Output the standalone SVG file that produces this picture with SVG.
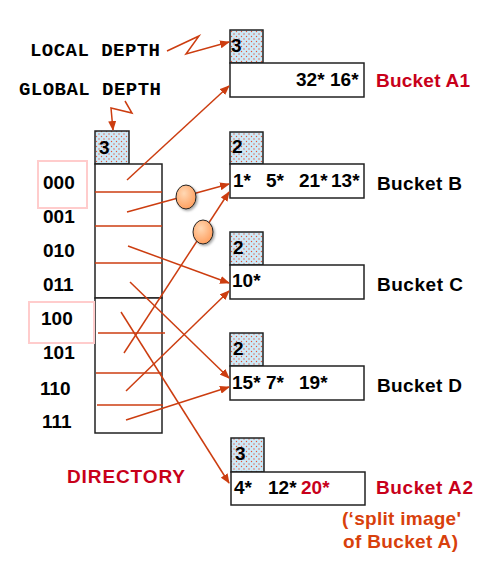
<svg xmlns="http://www.w3.org/2000/svg" width="499" height="583" viewBox="0 0 499 583">
<defs>
<pattern id="dots" width="5" height="5" patternUnits="userSpaceOnUse">
<rect width="5" height="5" fill="#cde9f7"/>
<circle cx="1.5" cy="1.5" r="0.7" fill="#e0553a"/>
<circle cx="4" cy="4" r="0.7" fill="#e0553a"/>
</pattern>
<radialGradient id="ball" cx="0.4" cy="0.35" r="0.7">
<stop offset="0" stop-color="#ffd8b4"/>
<stop offset="1" stop-color="#ff9c5a"/>
</radialGradient>
<marker id="ah" markerWidth="10" markerHeight="8" refX="9" refY="4" orient="auto" markerUnits="userSpaceOnUse">
<path d="M0,0 L10,4 L0,8 Z" fill="#cc3d10"/>
</marker>
<filter id="sh" x="-50%" y="-50%" width="200%" height="200%">
<feDropShadow dx="1.5" dy="1.5" stdDeviation="1" flood-color="#000" flood-opacity="0.35"/>
</filter>
</defs>
<style>
.box{fill:#fff;stroke:#222;stroke-width:1.5}
.dep{fill:url(#dots);stroke:#222;stroke-width:1.5}
.t{font-family:"Liberation Sans",Arial,sans-serif;font-weight:bold;font-size:19px;fill:#000}
.red{fill:#c8001a}
.orn{fill:#d8400c}
.mono{font-family:"Liberation Mono","Courier New",monospace;font-weight:bold;font-size:19px;fill:#000}
.ln{stroke:#cc3d10;stroke-width:1.5;fill:none}
.ar{stroke:#cc3d10;stroke-width:1.5;fill:none;marker-end:url(#ah)}
.pink{fill:none;stroke:#ffcccc;stroke-width:2}
</style>

<g id="labels">
<text class="mono" x="30" y="56" textLength="130">LOCAL DEPTH</text>
<text class="mono" x="19" y="95" textLength="142">GLOBAL DEPTH</text>
</g>

<g id="directory">
<rect class="dep" x="95" y="131" width="34" height="33"/>
<text class="t" x="99" y="154">3</text>
<rect class="box" x="95" y="164" width="67" height="134"/>
<rect class="box" x="95" y="298" width="67" height="135"/>
<line class="ln" x1="95" y1="192" x2="162" y2="192"/>
<line class="ln" x1="95" y1="226" x2="162" y2="226"/>
<line class="ln" x1="95" y1="263" x2="162" y2="263"/>
<line class="ln" x1="98" y1="333" x2="165" y2="333"/>
<line class="ln" x1="96" y1="373" x2="162" y2="373"/>
<line class="ln" x1="97" y1="405" x2="163" y2="405"/>
<rect class="pink" x="38" y="161" width="49" height="47"/>
<rect class="pink" x="29" y="302" width="65" height="41"/>
<text class="t" x="43" y="189">000</text>
<text class="t" x="43" y="223">001</text>
<text class="t" x="43" y="257">010</text>
<text class="t" x="43" y="291">011</text>
<text class="t" x="41" y="325">100</text>
<text class="t" x="43" y="359">101</text>
<text class="t" x="40" y="395">110</text>
<text class="t" x="42" y="428">111</text>
<text class="t red" x="67" y="483" textLength="118">DIRECTORY</text>
</g>

<g id="bucketA1">
<rect class="dep" x="230" y="30" width="33" height="33"/>
<text class="t" x="231" y="52">3</text>
<rect class="box" x="230" y="63" width="134" height="34"/>
<text class="t" x="296" y="86">32*</text>
<text class="t" x="330" y="86">16*</text>
<text class="t red" x="376" y="87" textLength="94">Bucket A1</text>
</g>

<g id="bucketB">
<rect class="dep" x="230" y="132" width="33" height="32"/>
<text class="t" x="232" y="153">2</text>
<rect class="box" x="230" y="164" width="134" height="34"/>
<text class="t" x="233" y="187">1*</text>
<text class="t" x="266" y="187">5*</text>
<text class="t" x="299" y="187">21*</text>
<text class="t" x="331" y="187">13*</text>
<text class="t" x="377" y="190" textLength="85">Bucket B</text>
</g>

<g id="bucketC">
<rect class="dep" x="230" y="232" width="33" height="33"/>
<text class="t" x="233" y="254">2</text>
<rect class="box" x="230" y="265" width="134" height="34"/>
<text class="t" x="232" y="287">10*</text>
<text class="t" x="377" y="291" textLength="86">Bucket C</text>
</g>

<g id="bucketD">
<rect class="dep" x="230" y="333" width="33" height="33"/>
<text class="t" x="233" y="355">2</text>
<rect class="box" x="230" y="366" width="134" height="34"/>
<text class="t" x="232" y="389">15*</text>
<text class="t" x="266" y="389">7*</text>
<text class="t" x="299" y="389">19*</text>
<text class="t" x="377" y="392" textLength="85">Bucket D</text>
</g>

<g id="bucketA2">
<rect class="dep" x="231" y="438" width="33" height="34"/>
<text class="t" x="235" y="460">3</text>
<rect class="box" x="231" y="472" width="134" height="33"/>
<text class="t" x="234" y="494">4*</text>
<text class="t" x="268" y="494">12*</text>
<text class="t red" x="301" y="494">20*</text>
<text class="t red" x="376" y="494" textLength="97">Bucket A2</text>
<text class="t orn" x="342" y="525" textLength="119">(‘split image'</text>
<text class="t orn" x="343" y="548" textLength="115">of Bucket A)</text>
</g>

<g id="connectors">
<polyline class="ar" points="167,51 199,36 186,54 229,42"/>
<polyline class="ar" points="125,101 132,113 111,108 113,130"/>
<line class="ar" x1="127" y1="180" x2="229" y2="86"/>
<line class="ar" x1="127" y1="212" x2="229" y2="184"/>
<line class="ar" x1="124" y1="353" x2="229" y2="192"/>
<line class="ar" x1="128" y1="246" x2="229" y2="283"/>
<line class="ar" x1="126" y1="391" x2="229" y2="291"/>
<line class="ar" x1="130" y1="282" x2="229" y2="378"/>
<line class="ar" x1="126" y1="420" x2="229" y2="387"/>
<line class="ar" x1="121" y1="312" x2="229" y2="483"/>
</g>

<g id="balls">
<ellipse cx="186" cy="197" rx="10" ry="12" fill="url(#ball)" stroke="#222" stroke-width="1" filter="url(#sh)"/>
<ellipse cx="203" cy="232" rx="10" ry="12" fill="url(#ball)" stroke="#222" stroke-width="1" filter="url(#sh)"/>
</g>
</svg>
